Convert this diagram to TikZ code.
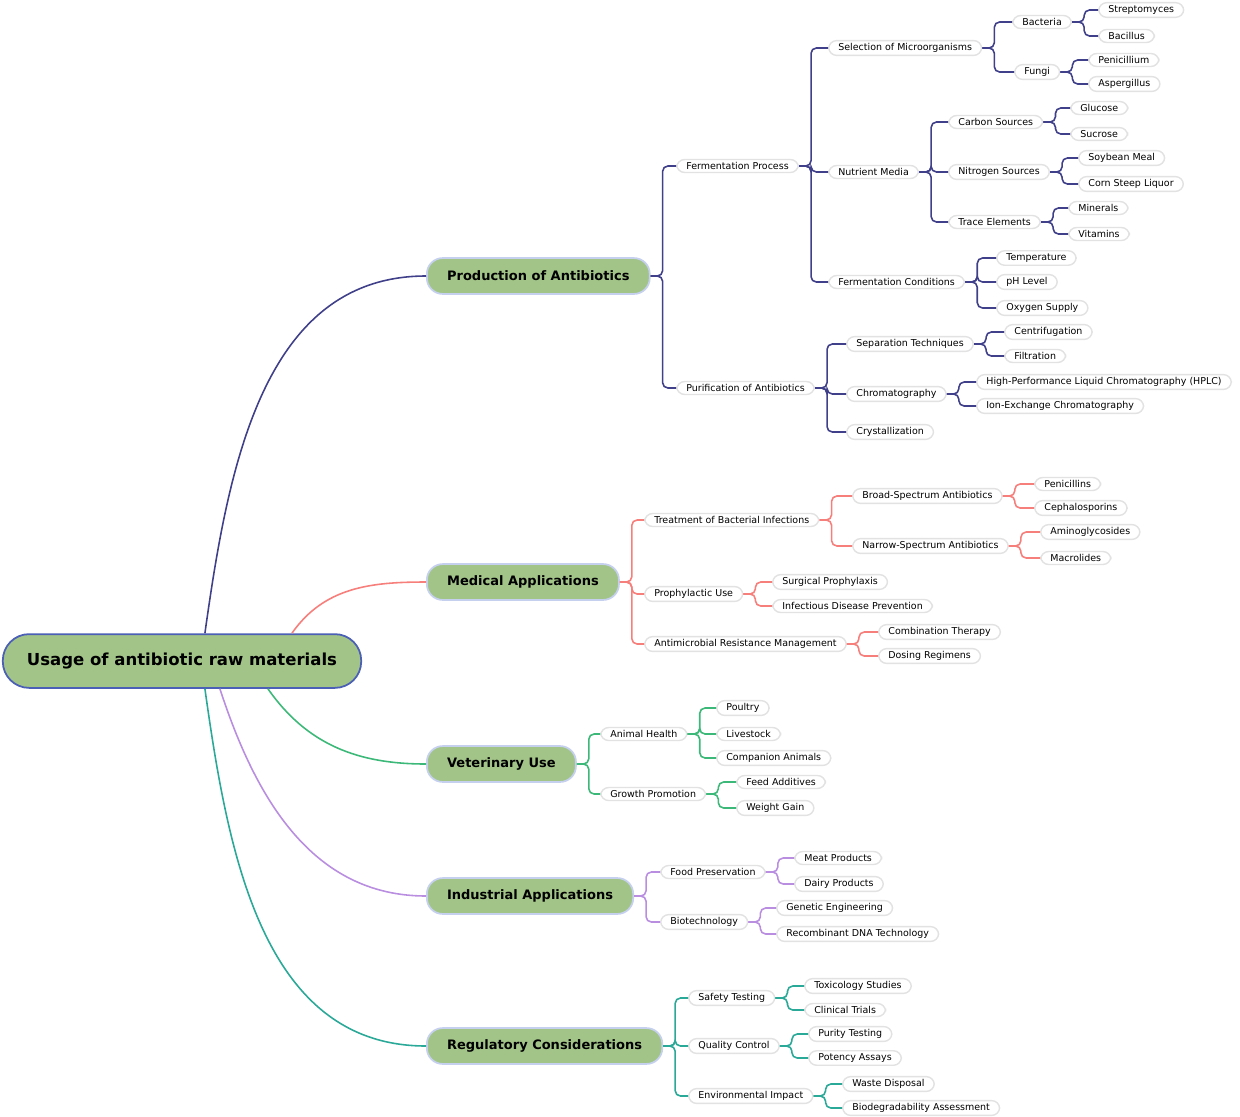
\documentclass[tikz,border=0pt]{standalone}
\usepackage{fontspec}
\setmainfont{DejaVu Sans}
\usetikzlibrary{calc}
\definecolor{prodc}{HTML}{3F3F8A}
\definecolor{medc}{HTML}{F77F7B}
\definecolor{vetc}{HTML}{3CB878}
\definecolor{indc}{HTML}{B98EE0}
\definecolor{regc}{HTML}{2AA898}
\definecolor{topfill}{HTML}{A2C488}
\definecolor{topline}{HTML}{C5D0EE}
\definecolor{rootline}{HTML}{4A5FB5}
\definecolor{leafline}{HTML}{E2E2E2}
\tikzset{
  leaf/.style={draw=leafline, line width=0.8pt, fill=white, rounded corners=4.5pt,
    anchor=west, inner xsep=5.5pt, inner ysep=1.6pt,
    font=\fontsize{5.4}{6}\selectfont},
  topic/.style={draw=topline, line width=1pt, fill=topfill, rounded corners=9pt,
    anchor=west, inner xsep=11.5pt, minimum height=20.4pt,
    font=\fontsize{7.4}{8}\selectfont\bfseries},
  root/.style={draw=rootline, line width=1pt, fill=topfill, rounded corners=15pt,
    minimum width=204pt, minimum height=30.6pt,
    font=\fontsize{9.4}{10}\selectfont\bfseries},
  link/.style={line width=0.9pt, rounded corners=3pt},
  curve/.style={line width=0.9pt}
}
\begin{document}
\begin{tikzpicture}[x=0.02cm, y=-0.02cm]
  \useasboundingbox (0,0) rectangle (1240,1116);

  \node[root] (root) at (182,661) {Usage of antibiotic raw materials};

  \node[topic] (prod) at (426,276) {Production of Antibiotics};
  \node[topic] (med) at (426,582) {Medical Applications};
  \node[topic] (vet) at (426,764) {Veterinary Use};
  \node[topic] (ind) at (426,896) {Industrial Applications};
  \node[topic] (reg) at (426,1046) {Regulatory Considerations};

  \draw[curve, prodc] ($(root.north west)+(203,0)$) to[out=82,in=180] (prod.west);
  \draw[curve, medc] ($(root.north west)+(290,0)$) to[out=55,in=180] (med.west);
  \draw[curve, vetc] ($(root.south west)+(266,0)$) to[out=-55,in=180] (vet.west);
  \draw[curve, indc] ($(root.south west)+(218,0)$) to[out=-72,in=180] (ind.west);
  \draw[curve, regc] ($(root.south west)+(203,0)$) to[out=-82,in=180] (reg.west);

  % production
  \node[leaf] (ferm) at (676,166) {Fermentation Process};
  \node[leaf] (purif) at (676,388) {Purification of Antibiotics};
  \node[leaf] (sel) at (828,48) {Selection of Microorganisms};
  \node[leaf] (nutr) at (828,172) {Nutrient Media};
  \node[leaf] (cond) at (828,282) {Fermentation Conditions};
  \node[leaf] (bact) at (1012,22) {Bacteria};
  \node[leaf] (fungi) at (1014,72) {Fungi};
  \node[leaf] (strep) at (1098,10) {Streptomyces};
  \node[leaf] (bacil) at (1098,36) {Bacillus};
  \node[leaf] (penic) at (1088,60) {Penicillium};
  \node[leaf] (asper) at (1088,84) {Aspergillus};
  \node[leaf] (carb) at (948,122) {Carbon Sources};
  \node[leaf] (nitr) at (948,172) {Nitrogen Sources};
  \node[leaf] (trace) at (948,222) {Trace Elements};
  \node[leaf] (gluc) at (1070,108) {Glucose};
  \node[leaf] (sucr) at (1070,134) {Sucrose};
  \node[leaf] (soy) at (1078,158) {Soybean Meal};
  \node[leaf] (corn) at (1078,184) {Corn Steep Liquor};
  \node[leaf] (miner) at (1068,208) {Minerals};
  \node[leaf] (vitam) at (1068,234) {Vitamins};
  \node[leaf] (temp) at (996,258) {Temperature};
  \node[leaf] (ph) at (996,282) {pH Level};
  \node[leaf] (oxy) at (996,308) {Oxygen Supply};
  \node[leaf] (sep) at (846,344) {Separation Techniques};
  \node[leaf] (chrom) at (846,394) {Chromatography};
  \node[leaf] (cryst) at (846,432) {Crystallization};
  \node[leaf] (centr) at (1004,332) {Centrifugation};
  \node[leaf] (filt) at (1004,356) {Filtration};
  \node[leaf] (hplc) at (976,382) {High-Performance Liquid Chromatography (HPLC)};
  \node[leaf] (ionx) at (976,406) {Ion-Exchange Chromatography};

  \foreach \p/\c in {prod/ferm, prod/purif, ferm/sel, ferm/nutr, ferm/cond,
      sel/bact, sel/fungi, bact/strep, bact/bacil, fungi/penic, fungi/asper,
      nutr/carb, nutr/nitr, nutr/trace, carb/gluc, carb/sucr, nitr/soy, nitr/corn,
      trace/miner, trace/vitam, cond/temp, cond/ph, cond/oxy,
      purif/sep, purif/chrom, purif/cryst, sep/centr, sep/filt, chrom/hplc, chrom/ionx}
    \draw[link, prodc] (\p.east) -- ++(12,0) |- (\c.west);

  % medical
  \node[leaf] (treat) at (644,520) {Treatment of Bacterial Infections};
  \node[leaf] (proph) at (644,594) {Prophylactic Use};
  \node[leaf] (amr) at (644,644) {Antimicrobial Resistance Management};
  \node[leaf] (broad) at (852,496) {Broad-Spectrum Antibiotics};
  \node[leaf] (narrow) at (852,546) {Narrow-Spectrum Antibiotics};
  \node[leaf] (penis) at (1034,484) {Penicillins};
  \node[leaf] (ceph) at (1034,508) {Cephalosporins};
  \node[leaf] (amino) at (1040,532) {Aminoglycosides};
  \node[leaf] (macro) at (1040,558) {Macrolides};
  \node[leaf] (surg) at (772,582) {Surgical Prophylaxis};
  \node[leaf] (infd) at (772,606) {Infectious Disease Prevention};
  \node[leaf] (combo) at (878,632) {Combination Therapy};
  \node[leaf] (dose) at (878,656) {Dosing Regimens};

  \foreach \p/\c in {med/treat, med/proph, med/amr, treat/broad, treat/narrow,
      broad/penis, broad/ceph, narrow/amino, narrow/macro, proph/surg, proph/infd,
      amr/combo, amr/dose}
    \draw[link, medc] (\p.east) -- ++(12,0) |- (\c.west);

  % veterinary
  \node[leaf] (anim) at (600,734) {Animal Health};
  \node[leaf] (growth) at (600,794) {Growth Promotion};
  \node[leaf] (poul) at (716,708) {Poultry};
  \node[leaf] (live) at (716,734) {Livestock};
  \node[leaf] (comp) at (716,758) {Companion Animals};
  \node[leaf] (feed) at (736,782) {Feed Additives};
  \node[leaf] (wgain) at (736,808) {Weight Gain};

  \foreach \p/\c in {vet/anim, vet/growth, anim/poul, anim/live, anim/comp,
      growth/feed, growth/wgain}
    \draw[link, vetc] (\p.east) -- ++(12,0) |- (\c.west);

  % industrial
  \node[leaf] (food) at (660,872) {Food Preservation};
  \node[leaf] (biot) at (660,922) {Biotechnology};
  \node[leaf] (meat) at (794,858) {Meat Products};
  \node[leaf] (dairy) at (794,884) {Dairy Products};
  \node[leaf] (gene) at (776,908) {Genetic Engineering};
  \node[leaf] (rdna) at (776,934) {Recombinant DNA Technology};

  \foreach \p/\c in {ind/food, ind/biot, food/meat, food/dairy, biot/gene, biot/rdna}
    \draw[link, indc] (\p.east) -- ++(12,0) |- (\c.west);

  % regulatory
  \node[leaf] (safe) at (688,998) {Safety Testing};
  \node[leaf] (qual) at (688,1046) {Quality Control};
  \node[leaf] (env) at (688,1096) {Environmental Impact};
  \node[leaf] (tox) at (804,986) {Toxicology Studies};
  \node[leaf] (clin) at (804,1010) {Clinical Trials};
  \node[leaf] (pur) at (808,1034) {Purity Testing};
  \node[leaf] (pot) at (808,1058) {Potency Assays};
  \node[leaf] (waste) at (842,1084) {Waste Disposal};
  \node[leaf] (biodeg) at (842,1108) {Biodegradability Assessment};

  \foreach \p/\c in {reg/safe, reg/qual, reg/env, safe/tox, safe/clin,
      qual/pur, qual/pot, env/waste, env/biodeg}
    \draw[link, regc] (\p.east) -- ++(12,0) |- (\c.west);
\end{tikzpicture}
\end{document}
